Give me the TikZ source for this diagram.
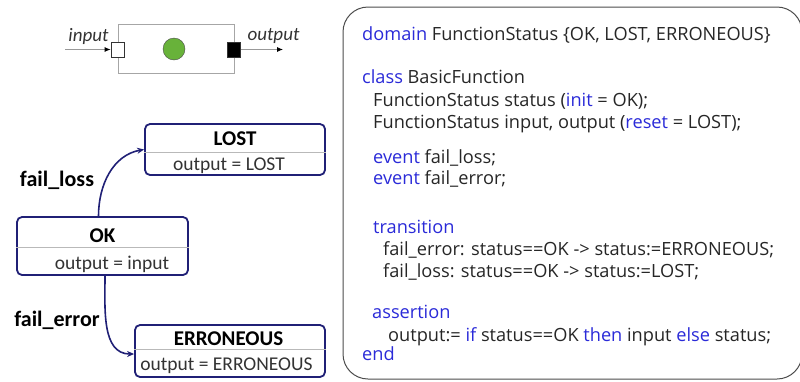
\documentclass[tikz,border=0pt]{standalone}
\usepackage{fontspec}
\setmainfont{Carlito}
\newfontfamily\codefont{Open Sans}
\usetikzlibrary{arrows.meta}

\definecolor{statenavy}{RGB}{32,32,118}
\definecolor{kwblue}{RGB}{42,42,216}
\definecolor{dotgreen}{RGB}{104,178,58}
\newcommand{\kw}[1]{\textcolor{kwblue}{#1}}

\begin{document}
\begin{tikzpicture}[x=1pt,y=-1pt,
    state/.style={draw=statenavy,line width=1.8pt,rounded corners=5pt},
    sep/.style={draw=gray!55,line width=0.6pt},
    title/.style={font=\fontsize{21}{23}\selectfont\bfseries,inner sep=0pt},
    body/.style={font=\fontsize{19.5}{21}\selectfont,text=black!80,inner sep=0pt},
    evlabel/.style={font=\fontsize{22}{24}\selectfont\bfseries,inner sep=0pt},
    trans/.style={draw=statenavy,line width=1.6pt,-{Stealth[length=7pt,width=6pt]}},
    code/.style={anchor=base west,inner sep=0pt,font=\codefont\fontsize{18.2}{20}\selectfont,text=black!85},
    port/.style={draw=black!80,line width=0.8pt,minimum width=13pt,minimum height=15pt,inner sep=0pt}]
    \useasboundingbox (0,0) rectangle (800,381);

    % block with its ports
    \node[draw=gray!70,line width=1pt,minimum width=116pt,minimum height=49pt] (block) at (176,48.5) {};
    \node[port,fill=white] (inport) at (117.5,49.5) {};
    \node[port,fill=black] (outport) at (234,49.5) {};
    \node[circle,draw=black!70,fill=dotgreen,minimum size=22pt,inner sep=0pt] (dot) at (174,49) {};
    \coordinate (instart) at (65,49.5);
    \coordinate (outend) at (283,49.5);
    \draw[gray!80,line width=0.8pt,-{Latex[length=6pt,width=5pt,black]}] (instart) -- (inport.west);
    \draw[gray!80,line width=0.8pt,-{Latex[length=6pt,width=5pt,black]}] (outport.east) -- (outend);
    \node[font=\fontsize{19}{21}\selectfont\itshape,text=black!80] (inname) at (88.5,36) {input};
    \node[font=\fontsize{19}{21}\selectfont\itshape,text=black!80] (outname) at (273.5,36) {output};

    % states
    \node[state,minimum width=180pt,minimum height=51pt] (lost) at (235,149.5) {};
    \draw[sep] (lost.west |- 0,152) -- (lost.east |- 0,152);
    \node[title] (losttitle) at (235,138.5) {LOST};
    \node[body] (lostout) at (229,166) {output = LOST};

    \node[state,minimum width=171pt,minimum height=58pt] (ok) at (102.5,246) {};
    \draw[sep] (ok.west |- 0,247) -- (ok.east |- 0,247);
    \node[title] (oktitle) at (102.5,236) {OK};
    \node[body] (okout) at (112,264) {output = input};

    \node[state,minimum width=190pt,minimum height=52pt] (err) at (230,351) {};
    \draw[sep] (err.west |- 0,349) -- (err.east |- 0,349);
    \node[title] (errtitle) at (228.5,338.5) {ERRONEOUS};
    \node[body] (errout) at (226.5,366) {output = ERRONEOUS};

    % transitions
    \draw[trans] ([xshift=-4pt]ok.north) to[out=90,in=190] (lost.west);
    \draw[trans] ([xshift=2.5pt]ok.south) to[out=-90,in=180] ([yshift=-3pt]err.west);
    \node[evlabel] (lossname) at (57,180) {fail\_loss};
    \node[evlabel] (errorname) at (57,320) {fail\_error};

    % code
    \draw[black!70,line width=1pt,rounded corners=25pt] (343,7) rectangle (802,379);
    \node[code] (domainline) at (362,40) {\kw{domain} FunctionStatus \{OK, LOST, ERRONEOUS\}};
    \node[code] (classline) at (362,83) {\kw{class} BasicFunction};
    \node[code] (statusline) at (373,106) {FunctionStatus status (\kw{init} = OK);};
    \node[code] (ioline) at (373,128) {FunctionStatus input, output (\kw{reset} = LOST);};
    \node[code] (lossevent) at (373,163) {\kw{event} fail\_loss;};
    \node[code] (errorevent) at (373,184) {\kw{event} fail\_error;};
    \node[code] (transline) at (373,233) {\kw{transition}};
    \node[code] (errortrans) at (383,255) {fail\_error: status==OK -> status:=ERRONEOUS;};
    \node[code] (losstrans) at (383,277) {fail\_loss: status==OK -> status:=LOST;};
    \node[code] (assertline) at (372,318) {\kw{assertion}};
    \node[code] (outline) at (388,341) {output:= \kw{if} status==OK \kw{then} input \kw{else} status;};
    \node[code] (endline) at (362,360) {\kw{end}};
\end{tikzpicture}
\end{document}
